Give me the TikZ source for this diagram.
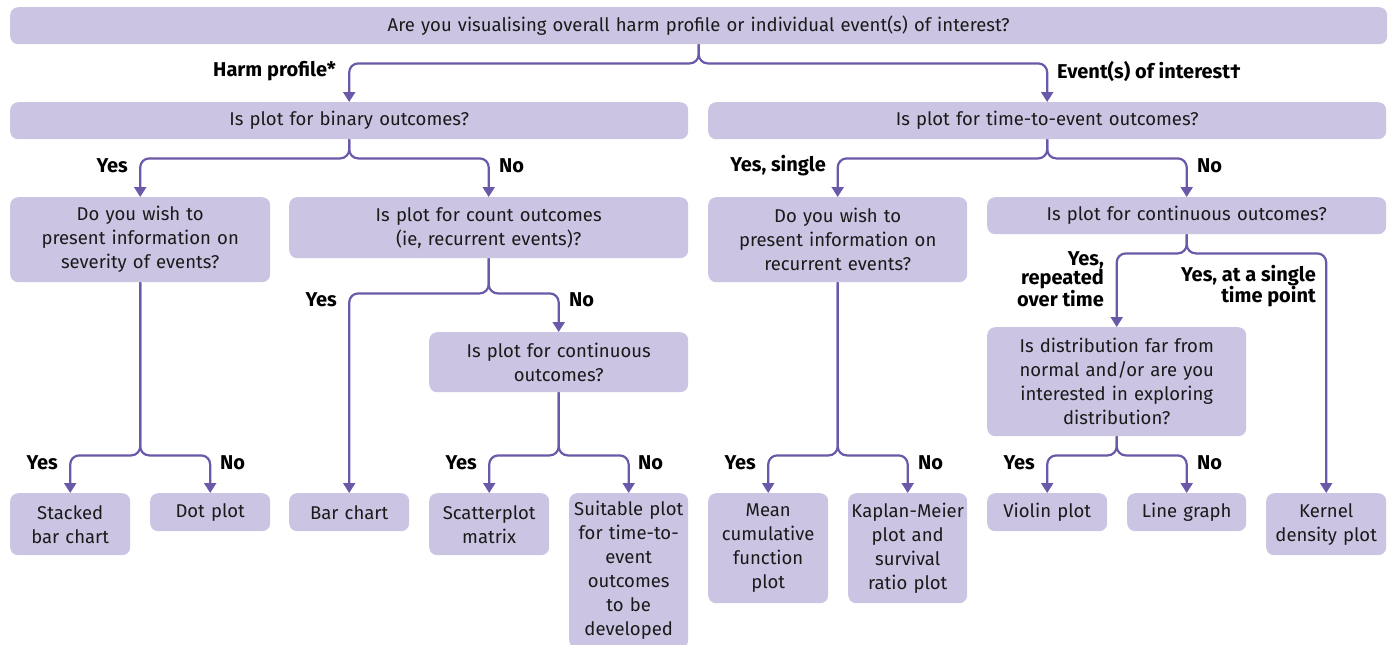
\documentclass[tikz,border=0pt]{standalone}
\usepackage{fontspec}
\setmainfont{Fira Sans}
\usetikzlibrary{arrows.meta}
\definecolor{boxfill}{HTML}{CBC5E3}
\definecolor{linec}{HTML}{6A58A8}
\definecolor{txt}{HTML}{1A1A1A}
\begin{document}
\begin{tikzpicture}[x=1pt,y=-1pt,
  box/.style={fill=boxfill, rounded corners=8pt, inner sep=0pt, align=center, anchor=north west, text=txt, font=\fontsize{18.5}{24}\selectfont},
  conn/.style={draw=linec, line width=2.2pt, rounded corners=9pt, -{Triangle[width=12pt,length=10pt]}},
  labl/.style={font=\bfseries\fontsize{20}{18.5}\selectfont, inner sep=0pt, align=right, anchor=east},
  labr/.style={font=\bfseries\fontsize{20}{18.5}\selectfont, inner sep=0pt, align=left, anchor=west}]
\useasboundingbox (0,0) rectangle (1392,645);
% boxes
\node[box, minimum width=1377pt, minimum height=37pt, text width=1360pt] (q1) at (10,7) {Are you visualising overall harm profile or individual event(s) of interest?};
\node[box, minimum width=678pt, minimum height=37pt, text width=660pt] (bin) at (10,102) {Is plot for binary outcomes?};
\node[box, minimum width=678pt, minimum height=37pt, text width=660pt] (tte) at (708,102) {Is plot for time-to-event outcomes?};
\node[box, minimum width=260pt, minimum height=85pt, text width=250pt] (sev) at (10,197) {Do you wish to\\present information on\\severity of events?};
\node[box, minimum width=399pt, minimum height=61pt, text width=390pt] (cnt) at (289,197) {Is plot for count outcomes\\(ie, recurrent events)?};
\node[box, minimum width=259pt, minimum height=85pt, text width=250pt] (rec) at (708,197) {Do you wish to\\present information on\\recurrent events?};
\node[box, minimum width=399pt, minimum height=37pt, text width=390pt] (rcont) at (987,197) {Is plot for continuous outcomes?};
\node[box, minimum width=259pt, minimum height=60pt, text width=250pt] (mcont) at (429,332) {Is plot for continuous\\outcomes?};
\node[box, minimum width=259pt, minimum height=109pt, text width=250pt] (dist) at (987,327) {Is distribution far from\\normal and/or are you\\interested in exploring\\distribution?};
\node[box, minimum width=120pt, minimum height=62pt, text width=118pt] (stk) at (10,493) {Stacked\\bar chart};
\node[box, minimum width=120pt, minimum height=38pt, text width=118pt] (dot) at (150,493) {Dot plot};
\node[box, minimum width=120pt, minimum height=38pt, text width=118pt] (bar) at (289,493) {Bar chart};
\node[box, minimum width=120pt, minimum height=62pt, text width=118pt] (sct) at (429,493) {Scatterplot\\matrix};
\node[box, minimum width=119pt, minimum height=155pt, text width=118pt] (suit) at (569,493) {Suitable plot\\for time-to-\\event\\outcomes\\to be\\developed};
\node[box, minimum width=120pt, minimum height=110pt, text width=118pt] (mcf) at (708,493) {Mean\\cumulative\\function\\plot};
\node[box, minimum width=119pt, minimum height=110pt, text width=118pt] (km) at (848,493) {Kaplan-Meier\\plot and\\survival\\ratio plot};
\node[box, minimum width=120pt, minimum height=38pt, text width=118pt] (vio) at (987,493) {Violin plot};
\node[box, minimum width=119pt, minimum height=38pt, text width=118pt] (lin) at (1127,493) {Line graph};
\node[box, minimum width=120pt, minimum height=62pt, text width=118pt] (ker) at (1266,493) {Kernel\\density plot};
% connectors
\draw[conn] (q1.south) -- ++(0,19) -| (bin.north);
\draw[conn] (q1.south) -- ++(0,19) -| (tte.north);
\draw[conn] (bin.south) -- ++(0,19) -| (sev.north);
\draw[conn] (bin.south) -- ++(0,19) -| (cnt.north);
\draw[conn] (tte.south) -- ++(0,19) -| (rec.north);
\draw[conn] (tte.south) -- ++(0,19) -| (rcont.north);
\draw[conn] (cnt.south) -- ++(0,35) -| (bar.north);
\draw[conn] (cnt.south) -- ++(0,35) -| (mcont.north);
\draw[conn] (sev.south) -- ++(0,173) -| (stk.north);
\draw[conn] (sev.south) -- ++(0,173) -| (dot.north);
\draw[conn] (mcont.south) -- ++(0,63) -| (sct.north);
\draw[conn] (mcont.south) -- ++(0,63) -| (suit.north);
\draw[conn] (rec.south) -- ++(0,173) -| (mcf.north);
\draw[conn] (rec.south) -- ++(0,173) -| (km.north);
\draw[conn] (rcont.south) -- ++(0,19) -| (dist.north);
\draw[conn] (rcont.south) -- ++(0,19) -| (ker.north);
\draw[conn] (dist.south) -- ++(0,19) -| (vio.north);
\draw[conn] (dist.south) -- ++(0,19) -| (lin.north);
% labels
\node[labl] (l1) at (336,71) {Harm profile*};
\node[labr] (l2) at (1057,71) {Event(s) of interest†};
\node[labl] (l3) at (128,166) {Yes};
\node[labr] (l4) at (499,166) {No};
\node[labl] (l5) at (826,166) {Yes, single};
\node[labr] (l6) at (1197,166) {No};
\node[labl] (l7) at (337,300) {Yes};
\node[labr] (l8) at (569,300) {No};
\node[labl] (l9) at (58,463) {Yes};
\node[labr] (l10) at (220,463) {No};
\node[labl] (l11) at (477,463) {Yes};
\node[labr] (l12) at (638,463) {No};
\node[labl] (l13) at (756,463) {Yes};
\node[labr] (l14) at (918,463) {No};
\node[labl] (l15) at (1035,463) {Yes};
\node[labr] (l16) at (1197,463) {No};
\node[labl] (l17) at (1104,279) {Yes,\\repeated\\over time};
\node[labl] (l18) at (1316,286) {Yes, at a single\\time point};
\end{tikzpicture}
\end{document}
